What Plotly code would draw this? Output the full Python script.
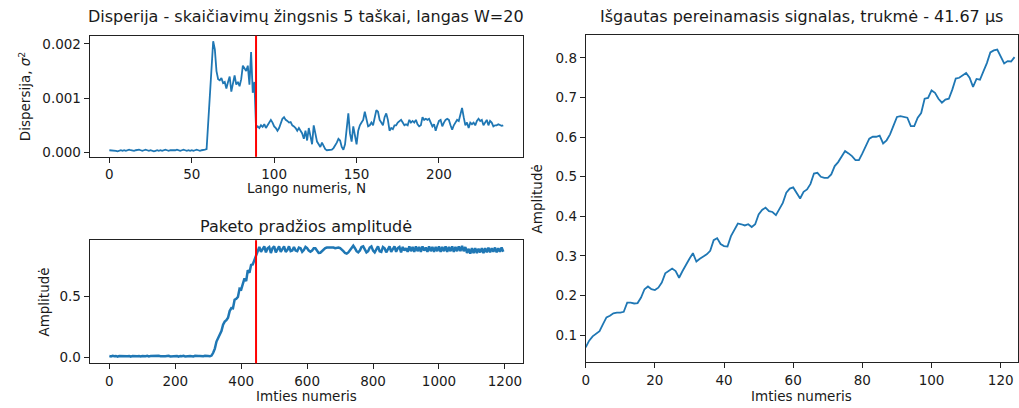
import numpy as np
import plotly.graph_objects as go

# ---------------- data ----------------
# Variance per window (window W=20, step 5)
dispersija = [
    0.00004, 0.00004, 0.00003, 0.00004, 0.00003, 0.00002, 0.00003, 0.00004, 0.00003, 0.00004,
    0.00003, 0.00004, 0.00005, 0.00004, 0.00003, 0.00003, 0.00004, 0.00005, 0.00005, 0.00004,
    0.00003, 0.00004, 0.00005, 0.00004, 0.00003, 0.00004, 0.00003, 0.00002, 0.00003, 0.00004,
    0.00003, 0.00004, 0.00003, 0.00004, 0.00005, 0.00004, 0.00003, 0.00004, 0.00004, 0.00003,
    0.00004, 0.00005, 0.00004, 0.00003, 0.00004, 0.00005, 0.00004, 0.00003, 0.00004, 0.00003,
    0.00004, 0.00003, 0.00004, 0.00005, 0.00004, 0.00003, 0.00004, 0.00004, 0.00005,
    0.00006, 0.0006, 0.0012, 0.0017, 0.00205, 0.0019, 0.0015, 0.00135, 0.00133, 0.00137,
    0.00128, 0.0013, 0.00118, 0.0013, 0.0014, 0.00112, 0.0013, 0.00142, 0.00125, 0.0013,
    0.00122, 0.00135, 0.0016, 0.00155, 0.0015, 0.0016, 0.00125, 0.00185, 0.0011, 0.0013,
    0.00045,
    0.00048, 0.00045, 0.0005, 0.00047, 0.00052, 0.00045, 0.0005, 0.00055, 0.0006, 0.00055,
    0.00048, 0.00045, 0.0004, 0.00045, 0.00055, 0.00062, 0.00065, 0.0006, 0.00058, 0.00055,
    0.00056, 0.0005, 0.00048, 0.00045, 0.0004, 0.00045, 0.0004, 0.00035, 0.00025, 0.0004,
    0.00022, 0.00045, 0.0003, 0.00015, 0.0005, 0.00035, 0.0002, 0.00015, 0.0001, 0.00018,
    0.00012, 0.00006, 0.00004, 0.00004, 0.00004, 0.00005, 0.00008, 0.00012, 0.00018, 0.00025,
    0.00022, 0.0001, 0.00005, 0.00015, 0.0004, 0.00072, 0.00035, 0.0002, 0.00048, 0.0003,
    0.00015, 0.0004, 0.0005, 0.00055, 0.0006, 0.00075, 0.0006, 0.00048, 0.0005, 0.00055,
    0.0005, 0.00065, 0.00078, 0.00075, 0.0006, 0.00055, 0.0005, 0.00065, 0.00072, 0.0006,
    0.0004, 0.00045, 0.00043, 0.0005, 0.0005, 0.00055, 0.00058, 0.0006, 0.00055, 0.0005,
    0.00052, 0.0005, 0.0006, 0.00055, 0.00058, 0.00055, 0.0006, 0.00052, 0.00048, 0.0005,
    0.00065, 0.0006, 0.00062, 0.0006, 0.00062, 0.00055, 0.00048, 0.00052, 0.0004, 0.0005,
    0.00058, 0.0006, 0.00048, 0.00055, 0.0006, 0.00062, 0.0006, 0.0005, 0.00042, 0.0005,
    0.00055, 0.0006, 0.00058, 0.0007, 0.00082, 0.00065, 0.0005, 0.00055, 0.00045, 0.00055,
    0.00052, 0.00055, 0.0005, 0.00058, 0.00062, 0.00058, 0.0006, 0.0005, 0.00055, 0.0006,
    0.0005, 0.00058, 0.00055, 0.00048, 0.0005, 0.0005, 0.00052, 0.0005, 0.00049, 0.0005,
]
langas_riba = 89          # detected window (red line, top plot)
zingsnis = 5              # step between samples in bottom plot list

# Packet start amplitude (every 5th sample)
amplitude = [
    0.008, 0.005, 0.010, 0.006, 0.009, 0.004, 0.008, 0.007, 0.010, 0.005,
    0.009, 0.006, 0.008, 0.004, 0.009, 0.007, 0.010, 0.006, 0.008, 0.005,
    0.009, 0.007, 0.006, 0.010, 0.005, 0.008, 0.009, 0.004, 0.008, 0.006,
    0.010, 0.007, 0.005, 0.009, 0.006, 0.008, 0.010, 0.005, 0.007, 0.009,
    0.006, 0.008, 0.004, 0.009, 0.007, 0.010, 0.005, 0.008, 0.006, 0.009,
    0.007, 0.005, 0.010, 0.006, 0.008, 0.009, 0.005, 0.007, 0.010, 0.006,
    0.008, 0.006,
    0.012, 0.035,
    0.07, 0.128, 0.157, 0.181, 0.214, 0.268, 0.293, 0.304, 0.325, 0.38,
    0.405, 0.403, 0.473, 0.482, 0.497, 0.565, 0.559, 0.604, 0.651, 0.628,
    0.718, 0.697, 0.762, 0.766, 0.804,
    0.84,
    0.875, 0.91, 0.87, 0.895, 0.915, 0.865, 0.9, 0.91, 0.86, 0.9,
    0.915, 0.865, 0.895, 0.915, 0.87, 0.89, 0.915, 0.87, 0.885, 0.915,
    0.875, 0.88, 0.91, 0.88, 0.875, 0.905, 0.9, 0.87, 0.885, 0.91,
    0.9, 0.88, 0.87, 0.88, 0.9, 0.9, 0.88, 0.86, 0.862, 0.875,
    0.89, 0.9, 0.905, 0.905, 0.908, 0.905, 0.905, 0.9, 0.905, 0.905,
    0.9, 0.89, 0.875, 0.86, 0.855, 0.865, 0.885, 0.91, 0.92, 0.9,
    0.875, 0.865, 0.88, 0.91, 0.915, 0.89, 0.865, 0.875, 0.905, 0.915,
    0.88, 0.865, 0.895, 0.915, 0.875, 0.87, 0.91, 0.9, 0.865, 0.895,
    0.915, 0.87, 0.89, 0.915, 0.87, 0.9, 0.91, 0.865, 0.91, 0.88,
    0.9, 0.87, 0.915, 0.875, 0.91, 0.87, 0.915, 0.875, 0.91, 0.87,
    0.915, 0.88, 0.905, 0.87, 0.915, 0.875, 0.91, 0.87, 0.91, 0.875,
    0.915, 0.87, 0.91, 0.875, 0.915, 0.87, 0.91, 0.875, 0.915, 0.87,
    0.91, 0.875, 0.915, 0.875, 0.92, 0.875, 0.91, 0.86, 0.895, 0.855,
    0.9, 0.86, 0.9, 0.86, 0.895, 0.865, 0.9, 0.86, 0.9, 0.865,
    0.905, 0.865, 0.9, 0.87, 0.905, 0.865, 0.9, 0.87, 0.905, 0.87,
]
imtis_riba = 445          # detected sample (red line, bottom plot)

# Extracted transient signal (125 samples)
signalas = [
    0.069, 0.086, 0.097, 0.104, 0.11, 0.128, 0.145, 0.149, 0.155, 0.157,
    0.157, 0.159, 0.182, 0.182, 0.18, 0.181, 0.195, 0.216, 0.223, 0.216,
    0.214, 0.22, 0.233, 0.256, 0.262, 0.268, 0.262, 0.245, 0.262, 0.279,
    0.293, 0.307, 0.286, 0.293, 0.298, 0.304, 0.313, 0.34, 0.345, 0.33,
    0.325, 0.324, 0.35, 0.367, 0.382, 0.38, 0.377, 0.38, 0.373, 0.38,
    0.405, 0.416, 0.422, 0.413, 0.411, 0.403, 0.419, 0.434, 0.46, 0.47,
    0.473, 0.46, 0.445, 0.462, 0.468, 0.482, 0.508, 0.51, 0.5, 0.497,
    0.497, 0.506, 0.527, 0.537, 0.552, 0.565, 0.559, 0.552, 0.542, 0.542,
    0.559, 0.577, 0.596, 0.601, 0.601, 0.604, 0.584, 0.592, 0.607, 0.629,
    0.651, 0.653, 0.651, 0.649, 0.628, 0.628, 0.649, 0.661, 0.697, 0.699,
    0.718, 0.712, 0.697, 0.687, 0.695, 0.697, 0.72, 0.748, 0.75, 0.755,
    0.762, 0.75, 0.727, 0.747, 0.745, 0.766, 0.787, 0.814, 0.819, 0.821,
    0.804, 0.786, 0.792, 0.791, 0.802,
]

x_disp = np.arange(len(dispersija))
x_amp = np.arange(len(amplitude)) * zingsnis
x_sig = np.arange(len(signalas))

# ---------------- figure ----------------
W, H = 1019, 408
BLUE = "#1f77b4"
FONT = "DejaVu Sans"
TXT = "#1a1a1a"

def px(x):
    return x / W

def py(y):
    return 1 - y / H

fig = go.Figure()
fig.add_trace(go.Scatter(x=x_disp, y=dispersija, mode="lines",
                         line=dict(color=BLUE, width=1.8), xaxis="x", yaxis="y"))
fig.add_trace(go.Scatter(x=x_amp, y=amplitude, mode="lines",
                         line=dict(color=BLUE, width=2.5), xaxis="x2", yaxis="y2"))
fig.add_trace(go.Scatter(x=x_sig, y=signalas, mode="lines",
                         line=dict(color=BLUE, width=1.8), xaxis="x3", yaxis="y3"))

axis_common = dict(showgrid=False, zeroline=False, showline=True, mirror=True,
                   linecolor="#222", linewidth=1, ticks="outside", ticklen=5,
                   tickwidth=1, tickcolor="#222",
                   tickfont=dict(family=FONT, size=13.5, color=TXT))

n1 = len(dispersija) - 1
mn1, mx1 = min(dispersija), max(dispersija)
n2 = x_amp[-1]
mn2, mx2 = min(amplitude), max(amplitude)
mn3, mx3 = min(signalas), max(signalas)

fig.update_layout(
    width=W, height=H, margin=dict(l=0, r=0, t=0, b=0),
    paper_bgcolor="white", plot_bgcolor="white", showlegend=False,
    xaxis=dict(axis_common, domain=[px(86), px(521)], anchor="y",
               range=[-0.05 * n1, 1.05 * n1], tickvals=[0, 50, 100, 150, 200]),
    yaxis=dict(axis_common, domain=[py(158), py(36)], anchor="x",
               range=[mn1 - 0.05 * (mx1 - mn1), mx1 + 0.05 * (mx1 - mn1)],
               tickvals=[0, 0.001, 0.002], tickformat=".3f"),
    xaxis2=dict(axis_common, domain=[px(86), px(521)], anchor="y2",
                range=[-0.05 * n2, 1.05 * n2],
                tickvals=[0, 200, 400, 600, 800, 1000, 1200]),
    yaxis2=dict(axis_common, domain=[py(366), py(242)], anchor="x2",
                range=[mn2 - 0.05 * (mx2 - mn2) - 0.01, mx2 + 0.05 * (mx2 - mn2)],
                tickvals=[0, 0.5], tickformat=".1f"),
    xaxis3=dict(axis_common, domain=[px(584), px(1018)], anchor="y3",
                range=[0, len(signalas)], tickvals=[0, 20, 40, 60, 80, 100, 120]),
    yaxis3=dict(axis_common, domain=[py(365), py(35)], anchor="x3",
                range=[mn3 - 0.05 * (mx3 - mn3), mx3 + 0.05 * (mx3 - mn3)],
                tickvals=[0.1, 0.2, 0.3, 0.4, 0.5, 0.6, 0.7, 0.8], tickformat=".1f"),
)

fig.add_shape(type="line", xref="x", yref="y domain", x0=langas_riba, x1=langas_riba,
              y0=0, y1=1, line=dict(color="red", width=2))
fig.add_shape(type="line", xref="x2", yref="y2 domain", x0=imtis_riba, x1=imtis_riba,
              y0=0, y1=1, line=dict(color="red", width=2))

def ann(text, x, y, size=13.5, angle=0):
    fig.add_annotation(text=text, x=px(x), y=py(y), xref="paper", yref="paper",
                       xanchor="center", yanchor="middle", showarrow=False,
                       textangle=angle, font=dict(family=FONT, size=size, color=TXT))

ann("Disperija - skaičiavimų žingsnis 5 taškai, langas W=20", 303.5, 17, 16)
ann("Paketo pradžios amplitudė", 303.5, 228, 16)
ann("Išgautas pereinamasis signalas, trukmė - 41.67 µs", 801, 17, 16)
ann("Lango numeris, N", 303.5, 189)
ann("Imties numeris", 303.5, 399)
ann("Imties numeris", 801, 399)
ann("Dispersija, <i>σ</i><sup>2</sup>", 21, 97, angle=-90)
ann("Amplitudė", 40, 304, angle=-90)
ann("Amplitudė", 535, 200, angle=-90)

fig.write_html("out.html")
